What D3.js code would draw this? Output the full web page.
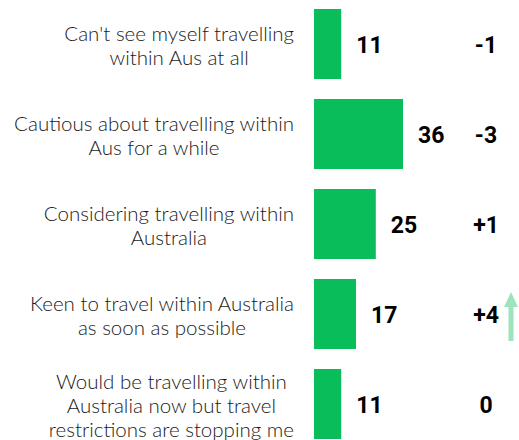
<!DOCTYPE html>
<html>
<head>
<meta charset="utf-8">
<script src="https://cdn.jsdelivr.net/npm/d3@7"></script>
<style>
  html, body { margin: 0; padding: 0; background: #ffffff; }
  svg { display: block; }
</style>
</head>
<body>
<svg id="chart" width="519" height="440"></svg>
<script>
// Domestic travel sentiment: share of respondents (%) and change since last wave
const categories = [
  ["Can't see myself travelling", "within Aus at all"],
  ["Cautious about travelling within", "Aus for a while"],
  ["Considering travelling within", "Australia"],
  ["Keen to travel within Australia", "as soon as possible"],
  ["Would be travelling within", "Australia now but travel", "restrictions are stopping me"]
];
const shares = [11, 36, 25, 17, 11];
const changes = ["-1", "-3", "+1", "+4", "0"];
const risingIndex = 3; // category flagged with an upward arrow

const svg = d3.select("#chart");

const barLeft = 314;
const x = d3.scaleLinear().domain([0, 36]).range([barLeft, 403]);
const y = d3.scaleBand()
  .domain(d3.range(categories.length))
  .range([-1, 449])
  .paddingInner(2 / 9)
  .paddingOuter(1 / 9);

const green = "#08bd5a";

// bars
svg.append("g").selectAll("rect")
  .data(shares)
  .join("rect")
  .attr("x", x(0))
  .attr("y", (d, i) => y(i))
  .attr("width", d => x(d) - x(0))
  .attr("height", y.bandwidth())
  .attr("fill", green);

// category labels: centred block whose widest line ends near the bars
const labelRight = 294;
const lineH = 24;
const catG = svg.append("g")
  .attr("font-family", "Lato, 'Open Sans', sans-serif")
  .attr("font-weight", 300)
  .attr("font-size", 20.5)
  .attr("fill", "#1a1a1a");

categories.forEach((lines, i) => {
  const cy = y(i) + y.bandwidth() / 2;
  const t = catG.append("text").attr("text-anchor", "middle");
  lines.forEach((ln, j) => {
    t.append("tspan").text(ln)
      .attr("y", cy + 8.5 - (lines.length - 1) * lineH / 2 + j * lineH);
  });
  const spans = t.selectAll("tspan").nodes();
  const maxW = d3.max(spans, s => s.getComputedTextLength());
  t.selectAll("tspan").attr("x", labelRight - maxW / 2);
});

// value labels
svg.append("g")
  .attr("font-family", "Roboto, sans-serif")
  .attr("font-weight", 700)
  .attr("font-size", 23)
  .attr("fill", "#000")
  .selectAll("text")
  .data(shares)
  .join("text")
  .attr("x", d => x(d) + 15)
  .attr("y", (d, i) => y(i) + y.bandwidth() / 2 + 9)
  .text(d => d);

// change labels
svg.append("g")
  .attr("font-family", "Roboto, sans-serif")
  .attr("font-weight", 700)
  .attr("font-size", 23)
  .attr("fill", "#000")
  .attr("text-anchor", "middle")
  .selectAll("text")
  .data(changes)
  .join("text")
  .attr("x", 486)
  .attr("y", (d, i) => y(i) + y.bandwidth() / 2 + 9)
  .text(d => d);

// upward arrow next to the rising category
const ay = y(risingIndex);
const ax = 511;
svg.append("path")
  .attr("d", `M${ax - 2.5},${ay + 62} L${ax - 2.5},${ay + 28} L${ax - 7},${ay + 28} L${ax},${ay + 13} L${ax + 7},${ay + 28} L${ax + 2.5},${ay + 28} L${ax + 2.5},${ay + 62} Z`)
  .attr("fill", "#9ee3bd");
</script>
</body>
</html>
